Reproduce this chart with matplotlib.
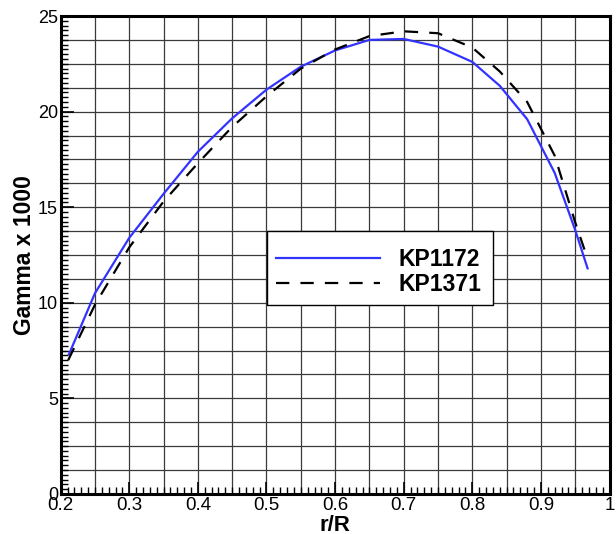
import numpy as np
import matplotlib
matplotlib.use("Agg")
import matplotlib.pyplot as plt
from matplotlib.ticker import MultipleLocator

plt.rcParams['font.family'] = ['Liberation Sans', 'DejaVu Sans']

# KP1172 circulation distribution
r_kp1172 = [0.212, 0.25, 0.30, 0.35, 0.40, 0.45, 0.50, 0.55, 0.60, 0.65,
            0.70, 0.75, 0.80, 0.84, 0.88, 0.92, 0.95, 0.968]
g_kp1172 = [7.3, 10.5, 13.4, 15.7, 17.9, 19.65, 21.15, 22.35, 23.2, 23.75,
            23.8, 23.4, 22.6, 21.35, 19.6, 16.8, 13.8, 11.8]

# KP1371 circulation distribution
r_kp1371 = [0.211, 0.25, 0.30, 0.35, 0.40, 0.45, 0.50, 0.55, 0.60, 0.65,
            0.70, 0.75, 0.80, 0.84, 0.88, 0.92, 0.95, 0.968]
g_kp1371 = [7.0, 9.9, 12.9, 15.3, 17.3, 19.2, 20.8, 22.25, 23.25, 23.95,
            24.2, 24.1, 23.35, 22.1, 20.5, 17.7, 14.2, 12.3]

x_ticks = [0.2, 0.3, 0.4, 0.5, 0.6, 0.7, 0.8, 0.9, 1.0]
x_labels = ['0.2', '0.3', '0.4', '0.5', '0.6', '0.7', '0.8', '0.9', '1']
y_ticks = [0, 5, 10, 15, 20, 25]

fig = plt.figure(figsize=(6.16, 5.34), dpi=100)
ax = fig.add_axes([0.0985, 0.075, 0.891, 0.895])

# grid lines
for gx in np.arange(0.25, 0.99, 0.05):
    ax.axvline(gx, color='#3a3a3a', lw=0.9, zorder=1)
for gy in np.arange(1.25, 24.9, 1.25):
    ax.axhline(gy, color='#3a3a3a', lw=0.9, zorder=1)

ax.plot(r_kp1172, g_kp1172, color='#3333ff', lw=1.6, label='KP1172', zorder=3)
ax.plot(r_kp1371, g_kp1371, color='black', lw=1.6, dashes=(6, 5),
        label='KP1371', zorder=3)

ax.set_xlim(0.2, 1.0)
ax.set_ylim(0, 25)
ax.set_xticks(x_ticks)
ax.set_xticklabels(x_labels)
ax.set_yticks(y_ticks)
ax.xaxis.set_minor_locator(MultipleLocator(0.01))
ax.yaxis.set_minor_locator(MultipleLocator(0.25))
ax.tick_params(which='major', direction='in', length=9, width=1.2,
               labelsize=13.5, pad=2, top=False, right=False)
ax.tick_params(axis='y', which='major', labelsize=13)
ax.tick_params(which='minor', direction='in', length=5, width=1.0,
               top=False, right=False)
for s in ax.spines.values():
    s.set_linewidth(2.2)

ax.set_xlabel('r/R', fontsize=16, fontweight='bold')
ax.xaxis.set_label_coords(0.5, -0.043)
ax.set_ylabel('Gamma x 1000', fontsize=16.5, fontweight='bold')
ax.yaxis.set_label_coords(-0.045, 0.5)

# blank small title pushes the entries down inside the frame, like the original
leg = ax.legend(loc='lower left', bbox_to_anchor=(0.376, 0.395, 0.412, 0.153),
                mode='expand', fontsize=16.5, frameon=True, fancybox=False,
                framealpha=1, edgecolor='black', handlelength=4.55,
                handletextpad=0.8, borderpad=0.4, labelspacing=0.1,
                borderaxespad=0, title=' ', title_fontsize=4)
leg.get_frame().set_linewidth(1.0)
for t in leg.get_texts():
    t.set_fontweight('bold')

fig.savefig('out.png', dpi=100)
